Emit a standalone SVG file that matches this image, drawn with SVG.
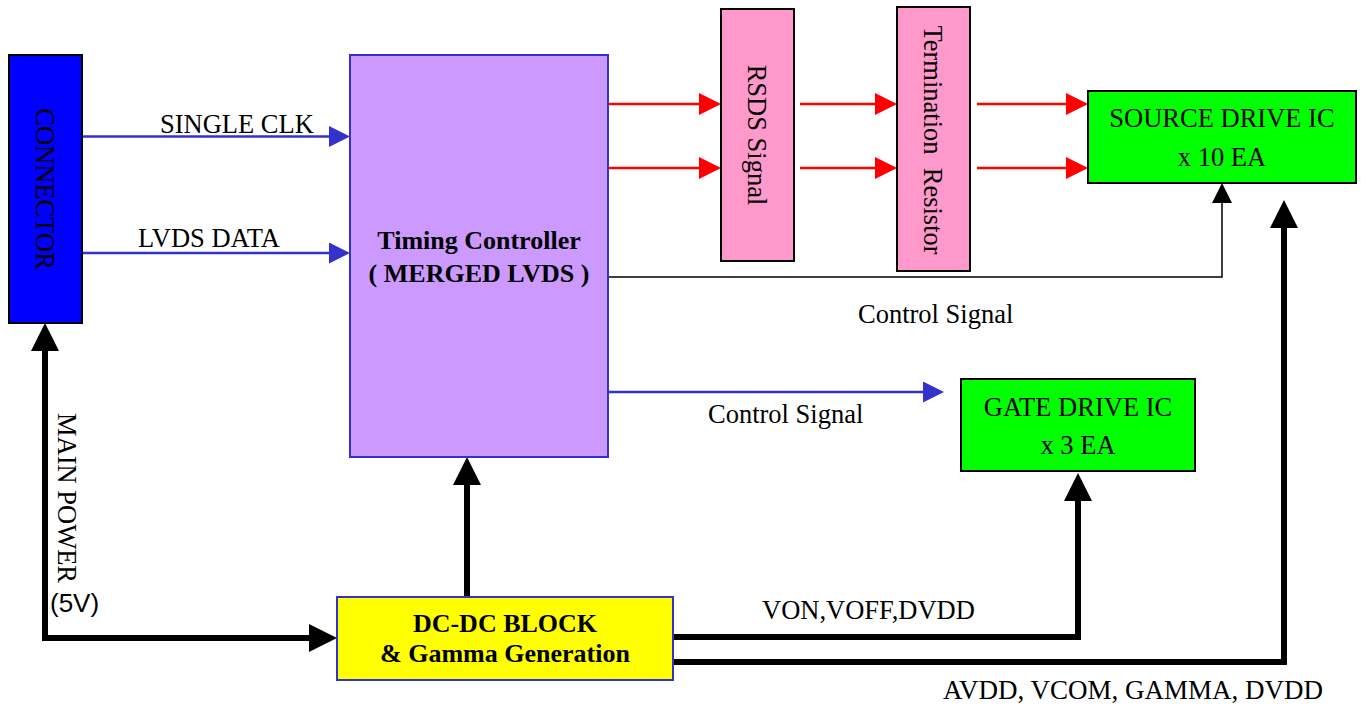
<svg xmlns="http://www.w3.org/2000/svg" width="1366" height="707" viewBox="0 0 1366 707">
<style>
text { font-family: "Liberation Serif", "Times New Roman", serif; font-size: 26.5px; fill: #000; }
.b { font-weight: bold; font-size: 26px; }
.sans { font-family: "Liberation Sans", Arial, sans-serif; font-size: 26px; }
.mid { text-anchor: middle; }
.box { stroke-width: 2; }
.blk { stroke: #000; }
.blu { stroke: #3333cc; }
.wire { fill: none; }
.bluew { stroke: #3333cc; stroke-width: 2.5; }
.redw { stroke: #ff0000; stroke-width: 2.5; }
.thin { stroke: #000; stroke-width: 1.5; }
.thick { stroke: #000; stroke-width: 6; stroke-linejoin: miter; }
</style>
<defs>
<marker id="aBlue" markerUnits="userSpaceOnUse" markerWidth="21" markerHeight="21" viewBox="0 0 21 21" refX="0" refY="10.5" orient="auto"><path d="M0,0 L21,10.5 L0,21 z" fill="#3333cc"/></marker>
<marker id="aRed" markerUnits="userSpaceOnUse" markerWidth="22" markerHeight="22" viewBox="0 0 22 22" refX="0" refY="11" orient="auto"><path d="M0,0 L22,11 L0,22 z" fill="#ff0000"/></marker>
<marker id="aThin" markerUnits="userSpaceOnUse" markerWidth="20" markerHeight="20" viewBox="0 0 20 20" refX="0" refY="10" orient="auto"><path d="M0,0 L20,10 L0,20 z" fill="#000"/></marker>
<marker id="aThick" markerUnits="userSpaceOnUse" markerWidth="28" markerHeight="28" viewBox="0 0 28 28" refX="0" refY="14" orient="auto-start-reverse"><path d="M0,0 L28,14 L0,28 z" fill="#000"/></marker>
</defs>
<rect width="1366" height="707" fill="#ffffff"/>

<g id="connectors">
<path class="wire bluew" d="M82,136.5 H329" marker-end="url(#aBlue)"/>
<path class="wire bluew" d="M82,253 H329" marker-end="url(#aBlue)"/>
<path class="wire redw" d="M608,104 H699" marker-end="url(#aRed)"/>
<path class="wire redw" d="M608,168 H699" marker-end="url(#aRed)"/>
<path class="wire redw" d="M800,104 H875" marker-end="url(#aRed)"/>
<path class="wire redw" d="M800,168 H875" marker-end="url(#aRed)"/>
<path class="wire redw" d="M977,104 H1066" marker-end="url(#aRed)"/>
<path class="wire redw" d="M977,168 H1066" marker-end="url(#aRed)"/>
<path class="wire thin" d="M608,277 H1222 V203" marker-end="url(#aThin)"/>
<path class="wire bluew" d="M608,392 H923" marker-end="url(#aBlue)"/>
<path class="wire thick" d="M45,351 V638 H309" marker-start="url(#aThick)" marker-end="url(#aThick)"/>
<path class="wire thick" d="M467,597 V485" marker-end="url(#aThick)"/>
<path class="wire thick" d="M673,637 H1078 V501" marker-end="url(#aThick)"/>
<path class="wire thick" d="M673,662 H1284 V228" marker-end="url(#aThick)"/>
<text x="160" y="133">SINGLE CLK</text>
<text x="138" y="247">LVDS DATA</text>
<text x="858" y="323">Control Signal</text>
<text x="708" y="423">Control Signal</text>
<text x="762" y="619">VON,VOFF,DVDD</text>
<text x="943" y="699" style="font-size:27px">AVDD, VCOM, GAMMA, DVDD</text>
<text transform="translate(58,413) rotate(90)">MAIN POWER</text>
<text class="sans" x="50" y="612">(5V)</text>
</g>

<g id="connector">
<rect class="box blk" x="9" y="55" width="73" height="268" fill="#0000ff"/>
<text class="mid" transform="translate(36,189) rotate(90)">CONNECTOR</text>
</g>

<g id="timing-controller">
<rect class="box blu" x="350" y="55" width="258" height="402" fill="#cc99ff"/>
<text class="b mid" x="479" y="249">Timing Controller</text>
<text class="b mid" x="479" y="282">( MERGED LVDS )</text>
</g>

<g id="rsds-signal">
<rect class="box blk" x="721" y="9" width="73" height="252" fill="#ff99cc"/>
<text class="mid" transform="translate(748,135) rotate(90)">RSDS Signal</text>
</g>

<g id="termination-resistor">
<rect class="box blk" x="897" y="7" width="73" height="264" fill="#ff99cc"/>
<text class="mid" transform="translate(924,140) rotate(90)">Termination&#160; Resistor</text>
</g>

<g id="source-drive-ic">
<rect class="box blk" x="1088" y="91" width="268" height="92" fill="#00ff00"/>
<text class="mid" x="1222" y="127">SOURCE DRIVE IC</text>
<text class="mid" x="1222" y="166">x 10 EA</text>
</g>

<g id="gate-drive-ic">
<rect class="box blk" x="961" y="379" width="234" height="92" fill="#00ff00"/>
<text class="mid" x="1078" y="416">GATE DRIVE IC</text>
<text class="mid" x="1078" y="454">x 3 EA</text>
</g>

<g id="dc-dc-block">
<rect class="box blu" x="337" y="597" width="336" height="83" fill="#ffff00"/>
<text class="b mid" x="505" y="632">DC-DC BLOCK</text>
<text class="b mid" x="505" y="662">&amp; Gamma Generation</text>
</g>
</svg>
